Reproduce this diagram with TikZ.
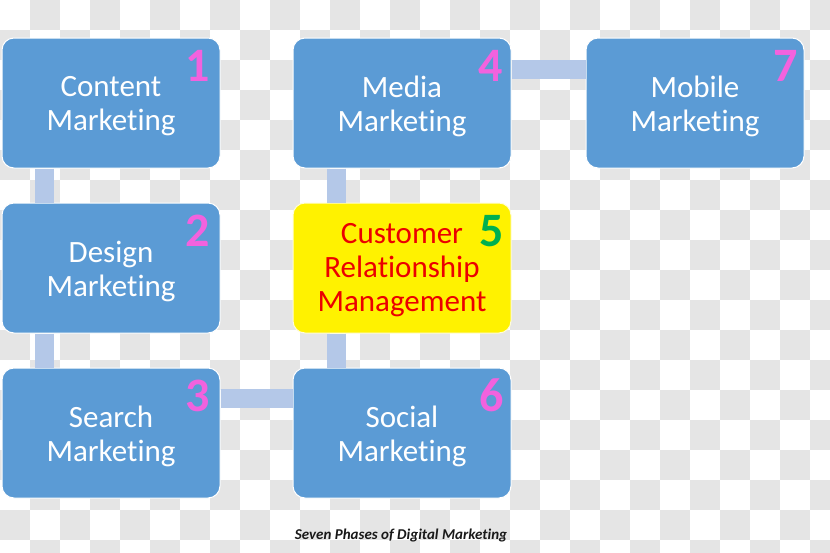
\documentclass[tikz,border=0pt]{standalone}
\usepackage{fontspec}
\setmainfont{Carlito}[Ligatures={NoCommon}]
\definecolor{boxblue}{RGB}{91,155,213}
\definecolor{connblue}{RGB}{180,200,232}
\definecolor{chk}{RGB}{229,229,229}
\definecolor{numpink}{RGB}{242,98,222}
\definecolor{numgreen}{RGB}{0,176,80}
\definecolor{crmred}{RGB}{235,0,0}
\definecolor{capcol}{RGB}{25,25,25}
\begin{document}
\begin{tikzpicture}[x=1pt,y=-1pt,
  phase/.style={rounded corners=12pt, minimum width=218pt, minimum height=130pt,
    inner sep=0pt},
  txt/.style={align=center, font=\fontsize{31}{34}\selectfont, inner sep=0pt, yshift=-3pt},
  bluebox/.style={phase, fill=boxblue, draw=white, line width=1pt},
  yellowbox/.style={phase, fill=yellow, draw=white!85!yellow, line width=1pt},
  num/.style={font=\fontsize{48}{48}\selectfont\bfseries, text=numpink, inner sep=0pt, anchor=base east},
  conn/.style={draw=connblue, line width=19pt},
  caption/.style={font=\fontsize{15}{17}\selectfont\bfseries\itshape, text=capcol, inner sep=0pt}]
\useasboundingbox (0,0) rectangle (830,552);
\begin{scope}
\clip (0,0) rectangle (830,552);
\fill[white] (0,0) rectangle (830,552);
\foreach \i in {0,...,27}{\foreach \j in {0,...,18}{%
  \pgfmathtruncatemacro\p{mod(\i+\j,2)}%
  \ifnum\p=1 \fill[chk] (\i*30,\j*30) rectangle ++(30,30);\fi}}
\end{scope}
% nodes
\node[bluebox, label={[txt,text=white]center:{Content\\Marketing}}] (b1) at (111,103) {};
\node[bluebox, label={[txt,text=white]center:{Design\\Marketing}}] (b2) at (111,268) {};
\node[bluebox, label={[txt,text=white]center:{Search\\Marketing}}] (b3) at (111,433) {};
\node[bluebox, label={[txt,text=white]center:{Media\\Marketing}}] (b4) at (402,103) {};
\node[yellowbox, label={[txt,text=crmred,yshift=1pt]center:{Customer\\Relationship\\Management}}] (b5) at (402,268) {};
\node[bluebox, label={[txt,text=white]center:{Social\\Marketing}}] (b6) at (402,433) {};
\node[bluebox, label={[txt,text=white]center:{Mobile\\Marketing}}] (b7) at (695,103) {};
% connectors
\draw[conn] ([xshift=43pt]b1.south west) -- ([xshift=43pt]b2.north west);
\draw[conn] ([xshift=43pt]b2.south west) -- ([xshift=43pt]b3.north west);
\draw[conn] ([yshift=-31pt]b3.north east) -- ([yshift=-31pt]b6.north west);
\draw[conn] ([xshift=44pt]b4.south west) -- ([xshift=44pt]b5.north west);
\draw[conn] ([xshift=44pt]b5.south west) -- ([xshift=44pt]b6.north west);
\draw[conn] ([yshift=-32pt]b4.north east) -- ([yshift=-32pt]b7.north west);
% numbers
\node[num] (n1) at ([xshift=-10pt,yshift=-44pt]b1.north east) {1};
\node[num] (n2) at ([xshift=-10pt,yshift=-44pt]b2.north east) {2};
\node[num] (n3) at ([xshift=-10pt,yshift=-44pt]b3.north east) {3};
\node[num] (n4) at ([xshift=-8pt,yshift=-44pt]b4.north east) {4};
\node[num, text=numgreen] (n5) at ([xshift=-7pt,yshift=-44pt]b5.north east) {5};
\node[num] (n6) at ([xshift=-7pt,yshift=-44pt]b6.north east) {6};
\node[num] (n7) at ([xshift=-6pt,yshift=-44pt]b7.north east) {7};
\node[caption, anchor=base] (cap) at (401,539) {Seven Phases of Digital Marketing};
\end{tikzpicture}
\end{document}
